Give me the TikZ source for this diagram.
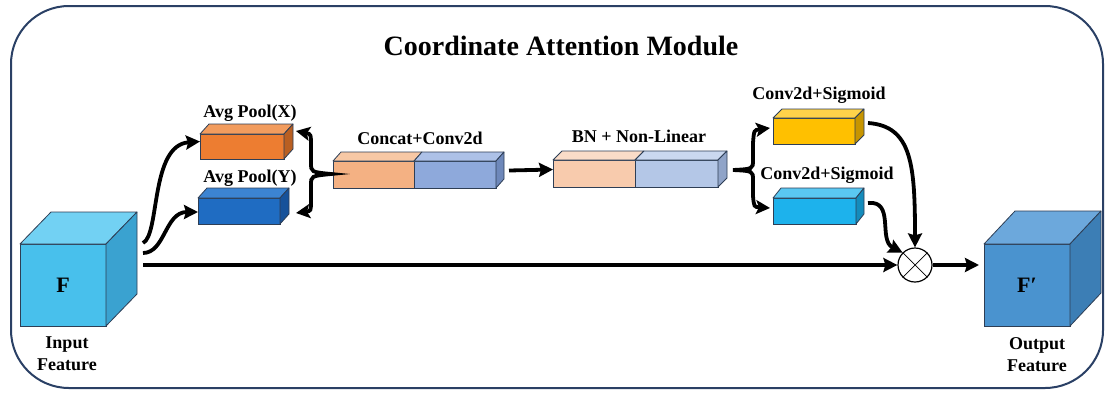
\documentclass[tikz,border=0pt]{standalone}
\usepackage{fontspec}
\setmainfont{Liberation Serif}
\usetikzlibrary{arrows.meta,calc}
\definecolor{navy}{HTML}{2A4065}
\definecolor{edge}{HTML}{2E3E55}
% input cube
\definecolor{inF}{HTML}{48C0EC}\definecolor{inT}{HTML}{72D1F3}\definecolor{inS}{HTML}{3AA2D0}
% output cube
\definecolor{outF}{HTML}{4A93CF}\definecolor{outT}{HTML}{6CA8DC}\definecolor{outS}{HTML}{3C7EB5}
% avg pool x
\definecolor{orF}{HTML}{ED7D31}\definecolor{orT}{HTML}{F29C5E}\definecolor{orS}{HTML}{B95F22}
% avg pool y
\definecolor{dbF}{HTML}{1F6CC2}\definecolor{dbT}{HTML}{3C84D2}\definecolor{dbS}{HTML}{17529A}
% yellow
\definecolor{yeF}{HTML}{FFC000}\definecolor{yeT}{HTML}{FFD24A}\definecolor{yeS}{HTML}{C79500}
% light blue
\definecolor{lbF}{HTML}{1DB2EC}\definecolor{lbT}{HTML}{5AC8F2}\definecolor{lbS}{HTML}{148CBC}
% concat
\definecolor{cLF}{HTML}{F4B183}\definecolor{cLT}{HTML}{F7C8A5}
\definecolor{cRF}{HTML}{8EA9DB}\definecolor{cRT}{HTML}{ADC1E7}\definecolor{cRS}{HTML}{6E88BA}
% bn
\definecolor{bLF}{HTML}{F8CBAD}\definecolor{bLT}{HTML}{FADCC8}
\definecolor{bRF}{HTML}{B4C7E7}\definecolor{bRT}{HTML}{CAD8EF}\definecolor{bRS}{HTML}{90A4C8}
\tikzset{
  face/.style={draw=edge, line width=0.8pt, inner sep=0pt, outer sep=0pt, anchor=north west},
  facepoly/.style={draw=edge, line width=0.8pt, line join=round},
  arr/.style={line width=3.8pt, -{Stealth[length=14pt,width=14pt,inset=2pt]}},
  darr/.style={line width=3.8pt, {Stealth[length=14pt,width=14pt,inset=3pt]}-{Stealth[length=14pt,width=14pt,inset=3pt]}},
  lbl/.style={font=\bfseries\fontsize{18}{22}\selectfont, inner sep=0pt},
}
\newcommand\cuboidbox[8]{%
  \node[face, fill=#8F, minimum width=#4pt, minimum height=#5pt] (#1) at (#2,#3) {};
  \filldraw[facepoly, fill=#8T] (#1.north west) -- ++(#6,-#7) -- ++(#4,0) -- (#1.north east) -- cycle;
  \filldraw[facepoly, fill=#8S] (#1.north east) -- ++(#6,-#7) -- ++(0,#5) -- (#1.south east) -- cycle;
}
\begin{document}
\begin{tikzpicture}[x=1pt,y=-1pt]
\useasboundingbox (0,0) rectangle (1105,394);
\fill[white] (0,0) rectangle (1105,394);
% frame
\draw[navy, line width=2pt, rounded corners=58pt] (11,6) rectangle (1103,388);
% title
\node[font=\bfseries\fontsize{28}{32}\selectfont, inner sep=0pt] (title) at (561,46) {Coordinate Attention Module};

% cubes
\cuboidbox{inC}{20}{244}{86}{82}{31}{32}{in}
\node[font=\bfseries\fontsize{22}{26}\selectfont, inner sep=0pt] (Ftxt) at (inC.center) {F};
\node[lbl, align=center] (inLbl) at (67,354) {Input\\Feature};

\cuboidbox{outC}{984}{244}{86}{82}{31}{33}{out}
\node[font=\bfseries\fontsize{22}{26}\selectfont, inner sep=0pt] (Fptxt) at (outC.center) {F′};
\node[lbl, align=center] (outLbl) at (1037,355) {Output\\Feature};

% avg pools
\cuboidbox{avgX}{200}{134}{84}{25}{9}{10}{or}
\node[lbl] (avgXl) at (250,113) {Avg Pool(X)};
\cuboidbox{avgY}{198}{198}{82}{26}{9}{10}{db}
\node[lbl] (avgYl) at (250,178) {Avg Pool(Y)};

% concat + conv2d
\node[face, fill=cLF, minimum width=81pt, minimum height=27pt] (cL) at (333,161) {};
\node[face, fill=cRF, minimum width=82pt, minimum height=27pt] (cR) at (414,161) {};
\filldraw[facepoly, fill=cLT] (cL.north west) -- ++(8,-9) -- ++(81,0) -- (cL.north east) -- cycle;
\filldraw[facepoly, fill=cRT] (cR.north west) -- ++(8,-9) -- ++(82,0) -- (cR.north east) -- cycle;
\filldraw[facepoly, fill=cRS] (cR.north east) -- ++(8,-9) -- ++(0,27) -- (cR.south east) -- cycle;
\node[lbl] (cLbl) at (420,138) {Concat+Conv2d};

% BN + non-linear
\node[face, fill=bLF, minimum width=82pt, minimum height=27pt] (bL) at (553,160) {};
\node[face, fill=bRF, minimum width=83pt, minimum height=27pt] (bR) at (635,160) {};
\filldraw[facepoly, fill=bLT] (bL.north west) -- ++(9,-9) -- ++(82,0) -- (bL.north east) -- cycle;
\filldraw[facepoly, fill=bRT] (bR.north west) -- ++(9,-9) -- ++(83,0) -- (bR.north east) -- cycle;
\filldraw[facepoly, fill=bRS] (bR.north east) -- ++(9,-9) -- ++(0,27) -- (bR.south east) -- cycle;
\node[lbl] (bLbl) at (639,136) {BN + Non-Linear};

% sigmoid branches
\cuboidbox{ySig}{773}{118}{82}{26}{9}{9}{ye}
\node[lbl] (ySigl) at (819,95) {Conv2d+Sigmoid};
\cuboidbox{bSig}{773}{198}{83}{26}{8}{10}{lb}
\node[lbl] (bSigl) at (827,175) {Conv2d+Sigmoid};

% multiply
\node[circle, draw=black, line width=1.2pt, minimum size=34pt, inner sep=0pt, fill=white] (mul) at (915,265) {};
\draw[line width=0.7pt] (mul.north west) -- (mul.south east) (mul.north east) -- (mul.south west);

% connectors
\draw[arr] ($(inC.north east)+(37,-1)$) .. controls (160,235) and (150,145) .. ([yshift=5pt]avgX.west);
\draw[arr] ($(inC.north east)+(37,9)$) .. controls (165,253) and (165,212) .. ([yshift=-1pt]avgY.west);
\draw[arr] ($(inC.east |- mul.west)+(37,0)$) -- (mul.west);

\draw[darr] (296,131) .. controls (311,134) .. (311,147) -- (311,163) .. controls (311,172) .. (331,174) .. controls (311,176) .. (311,185) -- (311,200) .. controls (311,211) .. (296,213);

\draw[arr] ($(cR.east)+(13,-4)$) -- ($(bL.west)+(0,-4)$);

\draw[darr] (770,128) .. controls (754,130) .. (753,143) -- (753,160) .. controls (753,169) .. (733,170) .. controls (753,171) .. (753,180) -- (753,196) .. controls (754,207) .. (770,208);

\draw[arr] ($(ySig.east)+(13,-8)$) .. controls (912,126) and (915,165) .. (mul.north);
\draw[arr] ($(bSig.east)+(12,-8)$) .. controls (895,200) and (878,240) .. (mul.north west);
\draw[arr] (mul.east) -- ($(outC.west |- mul.east)+(-5,0)$);
\end{tikzpicture}
\end{document}
